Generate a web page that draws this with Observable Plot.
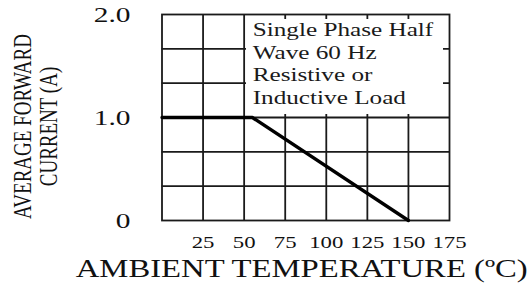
<!DOCTYPE html>
<html>
<head>
<meta charset="utf-8">
<script src="https://cdn.jsdelivr.net/npm/d3@7"></script>
<script src="https://cdn.jsdelivr.net/npm/@observablehq/plot@0.6"></script>
<style>
  html, body { margin: 0; padding: 0; background: #fff; }
  #wrap { position: relative; width: 529px; height: 285px; overflow: hidden; }
  #legend { position: absolute; left: 246px; top: 19px; width: 197px; height: 95px; background: #fff;
            font-family: "Liberation Serif", serif; font-size: 18px; line-height: 22.7px; color: #1a1a1a; }
  #legend div { white-space: nowrap; padding-left: 6.7px; transform: scaleX(1.4); transform-origin: 6.7px 0; }
</style>
</head>
<body>
<div id="wrap">
  <div id="chart"></div>
  <div id="legend"></div>
</div>
<script>
// ---- data ----
const temps = [0, 55, 150];            // ambient temperature (°C)
const current = [1.0, 1.0, 0];         // average forward current (A)
const xTicks = [25, 50, 75, 100, 125, 150, 175];
const xGrid = [25, 50, 75, 100, 125, 150];
const yTickValues = [0, 1, 2];
const yTickLabels = ["0", "1.0", "2.0"];
const yGrid = [1/3, 2/3, 1, 4/3, 5/3];
const legendLines = ["Single Phase Half", "Wave 60 Hz", "Resistive or", "Inductive Load"];
const xTitle = "AMBIENT TEMPERATURE (ºC)";
const yTitleLines = ["AVERAGE FORWARD", "CURRENT (A)"];

const curve = temps.map((t, i) => ({t, a: current[i]}));
const yTicks = yTickValues.map((v, i) => ({v, label: yTickLabels[i]}));

const svg = Plot.plot({
  width: 529,
  height: 285,
  marginLeft: 161.5,
  marginRight: 80,
  marginTop: 14,
  marginBottom: 65,
  x: {domain: [0, 175], axis: null},
  y: {domain: [0, 2], axis: null},
  style: {fontFamily: "Liberation Serif, serif", background: "#fff", color: "#111"},
  marks: [
    Plot.ruleX(xGrid, {stroke: "#1a1a1a", strokeWidth: 1.8}),
    Plot.ruleY(yGrid, {stroke: "#1a1a1a", strokeWidth: 1.8}),
    Plot.frame({stroke: "#1a1a1a", strokeWidth: 1.8}),
    Plot.line(curve, {x: "t", y: "a", stroke: "#000", strokeWidth: 3.3}),
    Plot.text(xTicks, {x: d => d, text: d => String(d), frameAnchor: "bottom", dy: 27.8,
      fontSize: 17.5, fill: "#111"}),
    Plot.text(yTicks, {y: "v", text: "label", frameAnchor: "left", textAnchor: "end", dx: -31.5, dy: 1,
      fontSize: 21, fill: "#111"}),
    Plot.text([xTitle], {text: d => d, frameAnchor: "bottom", dx: -4, dy: 56,
      fontSize: 25, fill: "#111"}),
    Plot.text([yTitleLines.join("\n")], {text: d => d, frameAnchor: "left", rotate: -90, textAnchor: "middle",
      dx: -126.5, dy: 9, fontSize: 19, lineHeight: 1.03, fill: "#111"})
  ]
});

document.getElementById("chart").append(svg);

// horizontal stretch of the text, as in the reference
const xTickStr = xTicks.map(String);
svg.querySelectorAll("text").forEach(t => {
  const s = t.textContent;
  let w = null;
  if (xTickStr.includes(s)) w = t.getComputedTextLength() * 1.3;
  else if (yTickLabels.includes(s)) w = t.getComputedTextLength() * 1.4;
  else if (s === xTitle) w = 452;
  else if (s.includes("AVERAGE")) {
    t.setAttribute("transform", (t.getAttribute("transform") || "") + " scale(1,1.33)");
  }
  if (w != null) {
    t.setAttribute("textLength", w);
    t.setAttribute("lengthAdjust", "spacingAndGlyphs");
  }
});

const legend = document.getElementById("legend");
legendLines.forEach(s => {
  const d = document.createElement("div");
  d.textContent = s;
  legend.append(d);
});
</script>
</body>
</html>
